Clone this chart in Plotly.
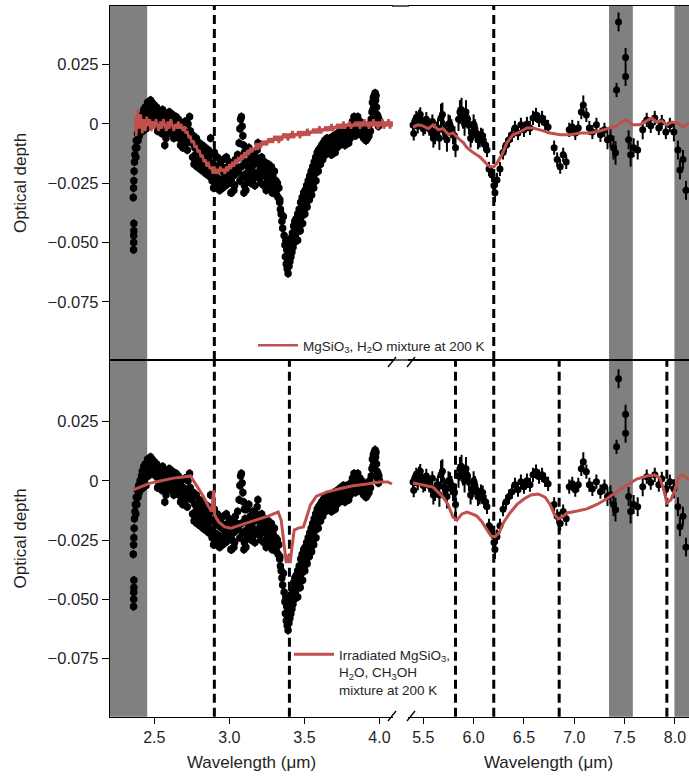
import plotly.graph_objects as go

# ---------------- data ----------------
# observed spectrum, short-wavelength segment (µm, optical depth)
wl_left = [
    2.362, 2.363, 2.363, 2.364, 2.364,
    2.360, 2.362, 2.364, 2.366, 2.368, 2.371, 2.374, 2.377, 2.380, 2.384, 2.388, 2.392, 2.396, 2.400, 2.405, 2.410, 2.415,
    2.420, 2.425, 2.430, 2.435, 2.440, 2.445, 2.450, 2.455, 2.460, 2.465, 2.470, 2.475, 2.480, 2.485, 2.490, 2.495,
    2.500, 2.505, 2.510, 2.515, 2.520, 2.525, 2.530, 2.535, 2.540, 2.545, 2.550, 2.555, 2.560, 2.565, 2.570, 2.575,
    2.580, 2.585, 2.590, 2.595, 2.600, 2.605, 2.610, 2.615, 2.620, 2.625, 2.630, 2.635, 2.640, 2.645, 2.650,
    2.660, 2.665, 2.670, 2.675, 2.680, 2.685, 2.690, 2.695, 2.700, 2.705, 2.710, 2.715, 2.720, 2.725, 2.730, 2.735, 2.740,
    2.750, 2.755, 2.760, 2.765, 2.770, 2.775, 2.780, 2.785, 2.790, 2.795, 2.800, 2.805, 2.810, 2.815, 2.820, 2.825,
    2.830, 2.835, 2.840, 2.845, 2.850, 2.855, 2.860, 2.865, 2.870,
    2.875, 2.880, 2.885, 2.890, 2.895, 2.900, 2.905, 2.910, 2.915, 2.920, 2.925, 2.930, 2.935, 2.940,
    2.945, 2.950, 2.955, 2.960, 2.965, 2.970, 2.975, 2.980, 2.985, 2.990, 2.995, 3.000, 3.005, 3.010, 3.015,
    3.020, 3.025, 3.030, 3.035, 3.040, 3.045, 3.050, 3.055, 3.010, 3.030, 3.097, 3.110,
    3.065, 3.070, 3.075, 3.080, 3.085, 3.090, 3.095, 3.100, 3.060, 3.070, 3.080, 3.090, 3.100,
    3.105, 3.110, 3.115, 3.120, 3.125, 3.130, 3.135, 3.140, 3.145, 3.150, 3.155, 3.160, 3.165, 3.170, 3.175,
    3.180, 3.185, 3.190, 3.195, 3.200, 3.205, 3.210,
    3.215, 3.220, 3.225, 3.230, 3.235, 3.240, 3.245, 3.250, 3.255, 3.260, 3.265, 3.270, 3.275, 3.280, 3.285,
    3.290, 3.295, 3.300, 3.305, 3.310, 3.315, 3.320, 3.325, 3.330, 3.335, 3.340,
    3.345, 3.350, 3.355, 3.360, 3.365,
    3.370, 3.373, 3.376, 3.379, 3.382, 3.385, 3.388, 3.391, 3.394, 3.397, 3.400, 3.403, 3.406, 3.410, 3.413,
    3.417, 3.420, 3.424, 3.428, 3.432, 3.436, 3.440, 3.445, 3.450, 3.455, 3.460,
    3.465, 3.470, 3.475, 3.480, 3.485, 3.490, 3.495, 3.500, 3.505, 3.510, 3.515, 3.520, 3.525,
    3.530, 3.535, 3.540, 3.545, 3.550, 3.555, 3.560, 3.565,
    3.570, 3.575, 3.580, 3.585, 3.590, 3.595, 3.600, 3.605, 3.610, 3.615, 3.620, 3.625, 3.630,
    3.635, 3.640, 3.645, 3.650, 3.655, 3.660, 3.665, 3.670, 3.675, 3.680, 3.685, 3.690, 3.695, 3.700, 3.705,
    3.710, 3.715, 3.720, 3.725,
    3.730, 3.735, 3.740, 3.745, 3.750, 3.755, 3.760, 3.765, 3.770, 3.775, 3.780, 3.785, 3.790, 3.795, 3.800,
    3.805, 3.810,
    3.815, 3.820, 3.825, 3.830, 3.835, 3.840, 3.845, 3.850, 3.855, 3.860, 3.865, 3.870, 3.875, 3.880, 3.885,
    3.890, 3.895, 3.900,
    3.905, 3.910, 3.915, 3.920, 3.925, 3.930, 3.935, 3.940, 3.945,
    3.950, 3.953, 3.956, 3.959, 3.962, 3.965, 3.968, 3.971, 3.974, 3.977, 3.980, 3.983, 3.986, 3.990, 3.993,
    3.996, 4.000,
    3.455, 3.472, 3.488, 3.503, 3.518, 3.533, 3.548, 3.562, 3.577, 3.592, 3.607, 3.622, 3.640, 3.660, 3.690,
    2.522, 2.548, 2.578, 2.612, 2.642, 2.772, 2.808, 2.842, 2.868, 2.912, 2.948, 2.982, 3.018, 3.152, 3.188,
    3.232, 3.268, 3.302, 3.336,
]
od_left = [
    -0.053, -0.050, -0.047, -0.045, -0.042,
    -0.031, -0.027, -0.024, -0.020, -0.016, -0.013, -0.010, -0.014, -0.007, -0.010, -0.004, -0.007, -0.002, -0.005, 0.000, -0.003, 0.002,
    0.004, -0.003, 0.006, 0.000, 0.007, -0.002, 0.005, 0.009, 0.002, 0.008, 0.004, 0.010, 0.006, 0.009, 0.003, 0.007,
    0.008, 0.004, 0.002, 0.007, 0.006, 0.001, -0.002, 0.003, 0.005, 0.000, -0.004, 0.006, 0.004, -0.003, -0.009, -0.001,
    0.003, 0.001, -0.003, 0.003, 0.005, 0.000, -0.002, -0.004, 0.004, 0.001, -0.006, -0.002, 0.002, 0.003, -0.004,
    0.002, -0.006, -0.002, -0.009, 0.000, -0.005, -0.010, -0.003, -0.007, 0.001, -0.008, -0.004, -0.011, 0.000, -0.006, 0.003, -0.003,
    -0.008, -0.014, -0.005, -0.017, -0.010, -0.013, -0.006, -0.018, -0.011, -0.015, -0.008, -0.019, -0.012, -0.016, -0.009, -0.020,
    -0.013, -0.017, -0.010, -0.021, -0.014, -0.018, -0.011, -0.022, -0.016,
    -0.006, -0.013, -0.024, -0.017, -0.027, -0.012, -0.022, -0.018, -0.026, -0.014, -0.023, -0.019, -0.028, -0.016,
    -0.024, -0.020, -0.027, -0.015, -0.023, -0.019, -0.026, -0.014, -0.022, -0.018, -0.025, -0.016, -0.021, -0.024, -0.029,
    -0.017, -0.022, -0.019, -0.026, -0.015, -0.021, -0.018, -0.013, -0.029, -0.028, -0.029, -0.028,
    -0.008, -0.002, 0.002, 0.003, -0.001, -0.005, -0.009, -0.012, -0.020, -0.024, -0.018, -0.022, -0.026,
    -0.016, -0.021, -0.012, -0.024, -0.018, -0.010, -0.022, -0.015, -0.025, -0.019, -0.013, -0.023, -0.017, -0.026, -0.014,
    -0.021, -0.011, -0.008, -0.016, -0.023, -0.019, -0.025,
    -0.014, -0.022, -0.018, -0.026, -0.016, -0.021, -0.028, -0.019, -0.024, -0.017, -0.027, -0.021, -0.025, -0.018, -0.029,
    -0.022, -0.026, -0.020, -0.028, -0.024, -0.030, -0.025, -0.031, -0.027, -0.033, -0.036,
    -0.038, -0.041, -0.044, -0.039, -0.047,
    -0.051, -0.056, -0.049, -0.059, -0.053, -0.061, -0.057, -0.063, -0.055, -0.060, -0.052, -0.058, -0.050, -0.056, -0.048,
    -0.054, -0.046, -0.052, -0.043, -0.050, -0.041, -0.047, -0.040, -0.045, -0.038, -0.043,
    -0.036, -0.041, -0.033, -0.039, -0.031, -0.037, -0.029, -0.035, -0.028, -0.033, -0.026, -0.031, -0.024,
    -0.029, -0.022, -0.027, -0.020, -0.025, -0.018, -0.023, -0.016,
    -0.021, -0.014, -0.019, -0.012, -0.017, -0.011, -0.016, -0.010, -0.014, -0.009, -0.013, -0.008, -0.012,
    -0.007, -0.013, -0.009, -0.006, -0.012, -0.008, -0.011, -0.006, -0.010, -0.013, -0.007, -0.011, -0.005, -0.009, -0.012,
    -0.006, -0.010, -0.004, -0.008,
    -0.005, -0.009, -0.003, -0.007, -0.004, -0.008, -0.002, -0.006, -0.009, -0.004, -0.007, -0.002, -0.005, -0.008, -0.003,
    -0.006, -0.001,
    -0.004, 0.001, -0.003, 0.003, -0.001, -0.005, 0.002, -0.002, 0.003, -0.001, -0.004, 0.001, -0.003, 0.000, -0.005,
    -0.002, -0.006, -0.001,
    -0.004, -0.007, -0.003, -0.006, -0.002, -0.005, 0.000, -0.003, 0.002,
    0.005, 0.009, 0.006, 0.011, 0.007, 0.012, 0.008, 0.013, 0.010, 0.012, 0.007, 0.004, 0.001, 0.003, -0.001,
    0.002, 0.000,
    -0.049, -0.045, -0.042, -0.038, -0.035, -0.032, -0.030, -0.027, -0.024, -0.020, -0.017, -0.015, -0.010, -0.009, -0.008,
    -0.003, 0.002, -0.006, 0.001, -0.001, -0.016, -0.015, -0.018, -0.020, -0.025, -0.018, -0.021, -0.025, -0.020, -0.016,
    -0.020, -0.023, -0.024, -0.032,
]
err_left = 0.0018

# observed spectrum, long-wavelength segment
wl_right = [
    5.398, 5.405, 5.415, 5.430, 5.445, 5.457, 5.470, 5.487, 5.500, 5.517, 5.530, 5.547, 5.560, 5.577, 5.590,
    5.600, 5.616, 5.630, 5.646, 5.660, 5.676, 5.690, 5.705, 5.720, 5.735, 5.750, 5.765, 5.780, 5.795, 5.810,
    5.820, 5.850, 5.864, 5.880, 5.894, 5.910, 5.924, 5.940, 5.954, 5.970, 5.983, 6.000, 6.013, 6.030, 6.043,
    6.060, 6.073, 6.090, 6.103, 6.120, 6.133, 6.153, 6.183, 6.202, 6.212, 6.232, 6.262, 6.292, 6.322, 6.352,
    6.381, 6.411, 6.441, 6.470, 6.500, 6.530, 6.560, 6.590, 6.620, 6.650, 6.680, 6.710, 6.740, 6.800, 6.830,
    6.860, 6.890, 6.920, 6.950, 6.980, 7.010, 7.040, 7.070, 7.090, 7.120, 7.150, 7.180, 7.220, 7.260, 7.300,
    7.330, 7.360, 7.390, 7.410, 7.420, 7.440, 7.510, 7.510, 7.540, 7.560, 7.590, 7.630, 7.680, 7.720, 7.760,
    7.800, 7.840, 7.870, 7.910, 7.950, 7.990, 8.030, 8.050, 8.080, 8.110,
]
od_right = [
    -0.0005, -0.0040, 0.0010, 0.0025, -0.0010, 0.0030, 0.0040, 0.0013, -0.0020, -0.0013, 0.0020, 0.0000, -0.0020, -0.0030, 0.0010,
    -0.0060, -0.0046, -0.0030, -0.0017, -0.0060, 0.0025, 0.0040, -0.0025, -0.0040, -0.0067, 0.0000, -0.0004, -0.0020, -0.0046, -0.0050,
    -0.0100, 0.0020, 0.0050, 0.0060, 0.0020, 0.0000, 0.0050, 0.0020, -0.0004, -0.0060, -0.0040, 0.0000, -0.0020, -0.0040, -0.0067,
    -0.0070, -0.0046, -0.0050, -0.0085, -0.0090, -0.0110, -0.0190, -0.0215, -0.0260, -0.0290, -0.0236, -0.0190, -0.0120, -0.0090, -0.0067,
    -0.0046, -0.0017, -0.0038, -0.0004, -0.0025, 0.0000, -0.0017, 0.0025, 0.0038, 0.0017, 0.0025, 0.0004, -0.0013, -0.0100, -0.0150,
    -0.0180, -0.0130, -0.0160, -0.0025, -0.0013, -0.0038, -0.0017, 0.0050, 0.0080, 0.0038, -0.0017, -0.0034, -0.0004, -0.0046, -0.0025,
    -0.0067, -0.0059, -0.0100, -0.0122, 0.0143, 0.0430, 0.0280, 0.0200, -0.0067, -0.0130, -0.0100, -0.0110, -0.0025, 0.0017, -0.0008,
    0.0025, -0.0017, 0.0008, -0.0034, -0.0004, -0.0034, -0.0110, -0.0194, -0.0150, -0.0280,
]
err_right = [
    0.003, 0.003, 0.003, 0.003, 0.003, 0.003, 0.003, 0.003, 0.003, 0.003, 0.003, 0.003, 0.003, 0.003, 0.003,
    0.004, 0.004, 0.004, 0.004, 0.005, 0.006, 0.005, 0.004, 0.004, 0.005, 0.004, 0.004, 0.004, 0.004, 0.004,
    0.004, 0.005, 0.005, 0.005, 0.004, 0.005, 0.005, 0.004, 0.004, 0.004, 0.004, 0.004, 0.004, 0.004, 0.004,
    0.003, 0.003, 0.003, 0.003, 0.003, 0.003, 0.003, 0.003, 0.004, 0.004, 0.003, 0.003, 0.003, 0.003, 0.003,
    0.003, 0.003, 0.003, 0.003, 0.003, 0.003, 0.003, 0.003, 0.003, 0.003, 0.003, 0.003, 0.003, 0.003, 0.003,
    0.003, 0.003, 0.003, 0.003, 0.003, 0.003, 0.003, 0.003, 0.004, 0.003, 0.003, 0.003, 0.003, 0.003, 0.003,
    0.004, 0.004, 0.005, 0.005, 0.003, 0.004, 0.004, 0.004, 0.004, 0.005, 0.004, 0.004, 0.004, 0.003, 0.003,
    0.003, 0.003, 0.003, 0.003, 0.003, 0.004, 0.004, 0.004, 0.004, 0.004,
]

# lab model 1: MgSiO3, H2O mixture at 200 K (top panel), noisy lab spectrum
wl_m1_left = [
    2.37, 2.38, 2.39, 2.40, 2.41, 2.42, 2.43, 2.44, 2.45, 2.46, 2.47, 2.48, 2.49, 2.50, 2.51, 2.52, 2.53, 2.54,
    2.55, 2.56, 2.57, 2.58, 2.59, 2.60, 2.61, 2.62, 2.63, 2.64, 2.65, 2.66, 2.67, 2.68, 2.69, 2.70, 2.71, 2.72,
    2.73, 2.74, 2.75, 2.76, 2.77, 2.78, 2.79, 2.80, 2.81, 2.82, 2.83, 2.84, 2.85, 2.86, 2.87, 2.88, 2.89, 2.90,
    2.91, 2.92, 2.93, 2.94, 2.95, 2.96, 2.97, 2.98, 2.99, 3.00, 3.01, 3.02, 3.03, 3.04, 3.05, 3.06, 3.07, 3.08,
    3.09, 3.10, 3.11, 3.12, 3.13, 3.14, 3.15, 3.16, 3.17, 3.18, 3.19, 3.20, 3.21, 3.22, 3.23, 3.24, 3.25, 3.26,
    3.27, 3.28, 3.29, 3.30, 3.31, 3.32, 3.33, 3.34, 3.35, 3.36, 3.37, 3.38, 3.39, 3.40, 3.41, 3.42, 3.43, 3.44,
    3.45, 3.46, 3.47, 3.48, 3.49, 3.50, 3.51, 3.52, 3.53, 3.54, 3.55, 3.56, 3.57, 3.58, 3.59, 3.60, 3.61, 3.62,
    3.63, 3.64, 3.65, 3.66, 3.67, 3.68, 3.69, 3.70, 3.71, 3.72, 3.73, 3.74, 3.75, 3.76, 3.77, 3.78, 3.79, 3.80,
    3.81, 3.82, 3.83, 3.84, 3.85, 3.86, 3.87, 3.88, 3.89, 3.90, 3.91, 3.92, 3.93, 3.94, 3.95, 3.96, 3.97, 3.98,
    3.99, 4.00, 4.01, 4.02, 4.03, 4.04, 4.05, 4.06, 4.07, 4.08, 4.09,
]
od_m1_left = [
    0.003, -0.005, 0.006, -0.002, 0.004, -0.004, 0.002, -0.003, 0.003, -0.001, 0.002, -0.003, 0.001, -0.002, 0.002, 0.000, -0.003, 0.001,
    -0.002, 0.002, -0.001, -0.003, 0.001, -0.002, 0.002, -0.001, -0.003, 0.000, -0.002, 0.001, -0.002, 0.000, -0.003, -0.001, -0.004, -0.003,
    -0.006, -0.005, -0.008, -0.007, -0.010, -0.009, -0.012, -0.011, -0.014, -0.013, -0.016, -0.015, -0.018, -0.016, -0.019, -0.018, -0.021, -0.018,
    -0.021, -0.019, -0.021, -0.018, -0.020, -0.019, -0.021, -0.018, -0.020, -0.017, -0.019, -0.016, -0.018, -0.015, -0.017, -0.014, -0.016, -0.013,
    -0.015, -0.012, -0.014, -0.011, -0.013, -0.010, -0.012, -0.010, -0.011, -0.008, -0.011, -0.008, -0.010, -0.007, -0.009, -0.007, -0.009, -0.006,
    -0.008, -0.006, -0.008, -0.005, -0.007, -0.005, -0.008, -0.005, -0.007, -0.004, -0.006, -0.004, -0.007, -0.004, -0.006, -0.003, -0.006, -0.004,
    -0.005, -0.003, -0.006, -0.003, -0.005, -0.003, -0.005, -0.002, -0.005, -0.003, -0.004, -0.002, -0.004, -0.002, -0.004, -0.001, -0.004, -0.002,
    -0.003, -0.001, -0.003, -0.001, -0.003, 0.000, -0.003, -0.001, -0.002, 0.000, -0.002, 0.000, -0.002, 0.001, -0.002, 0.000, -0.001, 0.001,
    -0.002, 0.000, -0.001, 0.001, -0.001, 0.001, -0.002, 0.001, -0.001, 0.002, -0.001, 0.001, -0.002, 0.001, -0.001, 0.002, -0.001, 0.001,
    -0.002, 0.001, -0.001, 0.002, -0.002, 0.001, -0.001, 0.002, -0.002, 0.001, -0.001,
]
wl_m1_right = [
    5.398, 5.45, 5.497, 5.55, 5.596, 5.65, 5.696, 5.75, 5.795, 5.83, 5.864, 5.90, 5.934, 5.993, 6.063, 6.122,
    6.162, 6.202, 6.232, 6.281, 6.33, 6.39, 6.46, 6.53, 6.59, 6.66, 6.76, 6.86, 6.96, 7.06, 7.155, 7.255,
    7.35, 7.42, 7.47, 7.52, 7.58, 7.65, 7.72, 7.77, 7.82, 7.87, 7.92, 7.97, 8.02, 8.08, 8.14,
]
od_m1_right = [
    -0.0013, -0.0004, -0.0008, -0.0020, -0.0004, -0.0025, -0.0020, -0.0045, -0.0038, -0.0055, -0.0067, -0.0080, -0.0100, -0.0120, -0.0139, -0.0165,
    -0.0180, -0.0180, -0.0165, -0.0130, -0.0080, -0.0046, -0.0034, -0.0017, -0.0017, -0.0025, -0.0038, -0.0046, -0.0046, -0.0038, -0.0038, -0.0030,
    -0.0017, -0.0008, 0.0010, 0.0017, -0.0004, -0.0004, 0.0013, 0.0025, 0.0008, 0.0013, -0.0004, 0.0008, 0.0004, -0.0013, 0.0004,
]

# lab model 2: irradiated MgSiO3, H2O, CH3OH mixture at 200 K (bottom panel)
wl_m2_left = [
    2.359, 2.406, 2.473, 2.540, 2.627, 2.695, 2.741, 2.788, 2.829, 2.862, 2.882, 2.896, 2.902, 2.929, 2.969, 3.010,
    3.077, 3.177, 3.258, 3.325, 3.345, 3.365, 3.379, 3.392, 3.405, 3.419, 3.432, 3.459, 3.493, 3.513, 3.540, 3.580,
    3.647, 3.727, 3.815, 3.915, 4.002, 4.056, 4.083,
]
od_m2_left = [
    -0.0039, -0.0027, -0.0010, -0.0001, 0.0011, 0.0016, 0.0020, -0.0027, -0.0069, -0.0110, -0.0130, -0.0040, -0.0145, -0.0174, -0.0195, -0.0200,
    -0.0187, -0.0166, -0.0149, -0.0132, -0.0166, -0.0271, -0.0347, -0.0313, -0.0347, -0.0271, -0.0208, -0.0200, -0.0195, -0.0157, -0.0102, -0.0065,
    -0.0048, -0.0035, -0.0022, -0.0014, -0.0005, -0.0005, -0.0014,
]
wl_m2_right = [
    5.398, 5.497, 5.596, 5.696, 5.745, 5.795, 5.834, 5.884, 5.934, 5.983, 6.033, 6.083, 6.132, 6.172, 6.212, 6.252,
    6.301, 6.361, 6.431, 6.500, 6.570, 6.640, 6.710, 6.760, 6.800, 6.840, 6.880, 6.930, 7.030, 7.125, 7.225, 7.320,
    7.420, 7.520, 7.620, 7.720, 7.800, 7.850, 7.890, 7.920, 7.960, 8.000, 8.040, 8.090, 8.140,
]
od_m2_right = [
    -0.0010, -0.0018, -0.0027, -0.0069, -0.0100, -0.0153, -0.0166, -0.0140, -0.0132, -0.0140, -0.0149, -0.0174, -0.0208, -0.0233, -0.0237, -0.0220,
    -0.0174, -0.0136, -0.0100, -0.0077, -0.0060, -0.0056, -0.0069, -0.0100, -0.0140, -0.0161, -0.0153, -0.0136, -0.0128, -0.0119, -0.0100, -0.0077,
    -0.0048, -0.0022, 0.0007, 0.0020, 0.0024, 0.0011, -0.0039, -0.0094, -0.0081, -0.0039, 0.0020, 0.0024, 0.0003,
]

# excluded (telluric) wavelength bands and marked features
gray_left = [(2.205, 2.453)]
gray_right = [(7.345, 7.582), (7.995, 8.20)]
feat_top_left = [2.90]
feat_top_right = [6.20]
feat_bot_left = [2.90, 3.40]
feat_bot_right = [5.82, 6.20, 6.85, 7.92]

ytick_vals = [0.025, 0, -0.025, -0.050, -0.075]
ytick_text = ["0.025", "0", "\u22120.025", "\u22120.050", "\u22120.075"]
xtick_left = [2.5, 3.0, 3.5, 4.0]
xtick_right = [5.5, 6.0, 6.5, 7.0, 7.5, 8.0]

# ---------------- figure ----------------
W, H = 689, 776
RED = "#c0504d"
FONT = "Liberation Sans, Arial, Helvetica, sans-serif"
TXT = "#1f1f28"


def px(x):
    return x / W


def py(y):
    return 1 - y / H


fig = go.Figure()

panels = [("x", "y", "x2", "y2", wl_m1_left, od_m1_left, wl_m1_right, od_m1_right, "legend",
           "MgSiO<sub>3</sub>, H<sub>2</sub>O mixture at 200 K", 2.6),
          ("x3", "y3", "x4", "y4", wl_m2_left, od_m2_left, wl_m2_right, od_m2_right, "legend2",
           "Irradiated MgSiO<sub>3</sub>,<br>H<sub>2</sub>O, CH<sub>3</sub>OH<br>mixture at 200 K", 3)]

for xl, yl, xr, yr, mwl, mod, mwr, modr, leg, name, lw in panels:
    fig.add_trace(go.Scatter(x=wl_left, y=od_left, mode="markers", xaxis=xl, yaxis=yl,
                             marker=dict(color="black", size=7.5),
                             error_y=dict(type="constant", value=err_left, color="black", thickness=2, width=0),
                             showlegend=False, hoverinfo="skip"))
    fig.add_trace(go.Scatter(x=wl_right, y=od_right, mode="markers", xaxis=xr, yaxis=yr,
                             marker=dict(color="black", size=7),
                             error_y=dict(type="data", array=err_right, color="black", thickness=2, width=0),
                             showlegend=False, hoverinfo="skip"))
    fig.add_trace(go.Scatter(x=mwl, y=mod, mode="lines", xaxis=xl, yaxis=yl,
                             line=dict(color=RED, width=lw), name=name, legend=leg, showlegend=True))
    fig.add_trace(go.Scatter(x=mwr, y=modr, mode="lines", xaxis=xr, yaxis=yr,
                             line=dict(color=RED, width=3), showlegend=False))

shapes = []


def band(xref, yref, lo, hi):
    shapes.append(dict(type="rect", xref=xref, yref=yref + " domain", x0=lo, x1=hi, y0=0, y1=1,
                       fillcolor="#808080", line=dict(width=0), layer="below"))


def dash(xref, yref, x):
    shapes.append(dict(type="line", xref=xref, yref=yref + " domain", x0=x, x1=x, y0=0, y1=1,
                       line=dict(color="black", width=3, dash="9px,5px"), layer="below"))


for lo, hi in gray_left:
    band("x", "y", lo, hi)
    band("x3", "y3", lo, hi)
for lo, hi in gray_right:
    band("x2", "y2", lo, hi)
    band("x4", "y4", lo, hi)
for v in feat_top_left:
    dash("x", "y", v)
for v in feat_top_right:
    dash("x2", "y2", v)
for v in feat_bot_left:
    dash("x3", "y3", v)
for v in feat_bot_right:
    dash("x4", "y4", v)

# fill frame lines across the axis break (top and middle) and add break marks
for yy in (6, 360):
    shapes.append(dict(type="line", xref="paper", yref="paper", x0=px(392), x1=px(409), y0=py(yy), y1=py(yy),
                       line=dict(color="black", width=1.3)))
for yy in (362, 716):
    for xx in (392, 411):
        shapes.append(dict(type="line", xref="paper", yref="paper", x0=px(xx - 4), x1=px(xx + 4),
                           y0=py(yy + 5), y1=py(yy - 5), line=dict(color="black", width=1.3)))

XL = [px(110), px(393)]
XR = [px(408), 1.0]
YT = [py(360), py(6)]
YB = [py(716.7), py(360)]
RL = [2.205, 4.09]
RR = [5.348, 8.14]
RYT = [-0.0995, 0.0497]
RYB = [-0.0995, 0.0509]

ax_common = dict(showgrid=False, zeroline=False, linecolor="black", linewidth=1.3,
                 tickfont=dict(family=FONT, size=16, color=TXT), ticks="outside", tickcolor="black",
                 tickwidth=1.3)
yax = dict(ax_common, tickvals=ytick_vals, ticktext=ytick_text, ticklen=7, showline=True,
           tickfont=dict(family=FONT, size=16.5, color=TXT),
           title=dict(text="Optical depth", font=dict(family=FONT, size=17, color=TXT), standoff=16))
xtitle = dict(text="Wavelength (\u03bcm)", font=dict(family=FONT, size=17, color=TXT), standoff=11)

fig.update_layout(
    width=W, height=H, margin=dict(l=0, r=0, t=0, b=0),
    paper_bgcolor="white", plot_bgcolor="white",
    font=dict(family=FONT, color=TXT),
    xaxis=dict(ax_common, domain=XL, range=RL, anchor="y", showline=True, mirror=True,
               ticks="", showticklabels=False),
    yaxis=dict(yax, domain=YT, range=RYT, anchor="x"),
    xaxis2=dict(ax_common, domain=XR, range=RR, anchor="y2", showline=True, mirror=True,
                ticks="", showticklabels=False),
    yaxis2=dict(domain=YT, range=RYT, anchor="x2", visible=False),
    xaxis3=dict(ax_common, domain=XL, range=RL, anchor="y3", showline=True, mirror=True,
                tickvals=xtick_left, ticktext=["2.5", "3.0", "3.5", "4.0"], ticklen=6, title=xtitle),
    yaxis3=dict(yax, domain=YB, range=RYB, anchor="x3"),
    xaxis4=dict(ax_common, domain=XR, range=RR, anchor="y4", showline=True, mirror=True,
                tickvals=xtick_right, ticktext=["5.5", "6.0", "6.5", "7.0", "7.5", "8.0"], ticklen=6,
                title=xtitle),
    yaxis4=dict(domain=YB, range=RYB, anchor="x4", visible=False),
    legend=dict(x=px(253), y=py(330), xanchor="left", yanchor="top", bgcolor="rgba(0,0,0,0)",
                font=dict(family=FONT, size=13.5, color=TXT), itemwidth=40),
    legend2=dict(x=px(289), y=py(639), xanchor="left", yanchor="top", bgcolor="rgba(0,0,0,0)",
                 font=dict(family=FONT, size=13.5, color=TXT), itemwidth=40, valign="top"),
    shapes=shapes,
)

fig.write_html("out.html")
